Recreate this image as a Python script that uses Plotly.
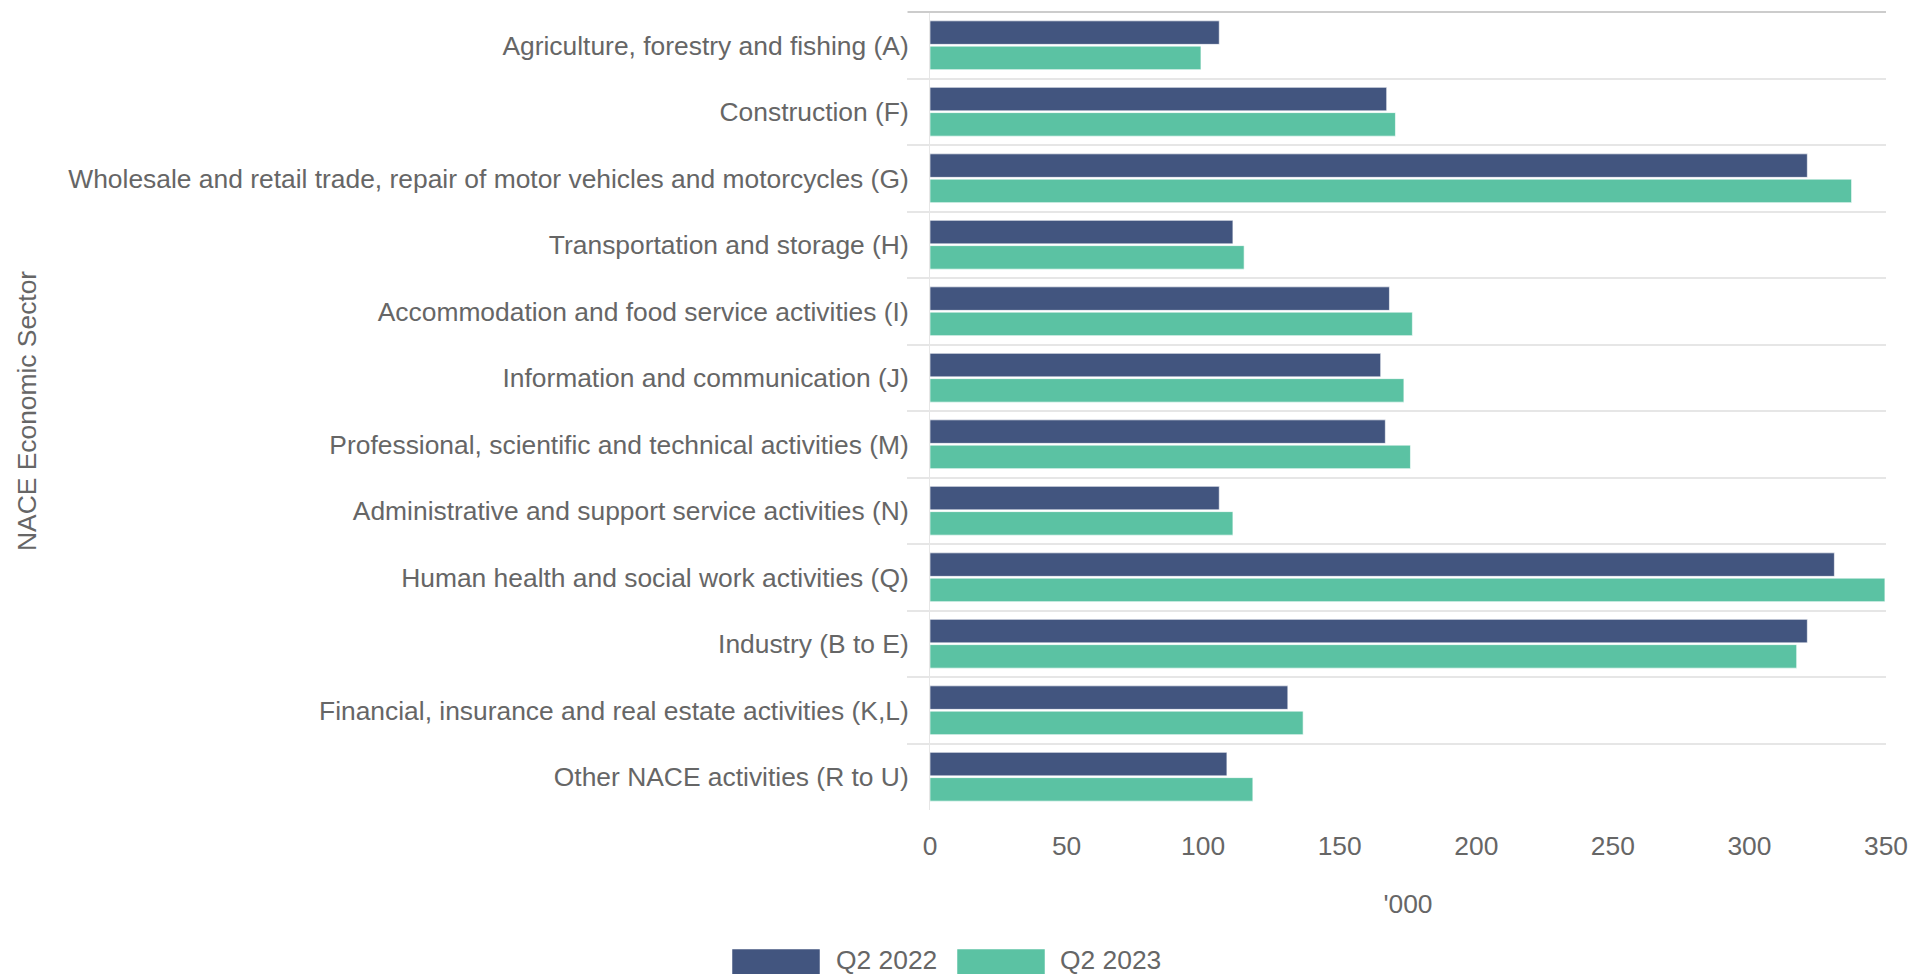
import plotly.graph_objects as go

# Persons in employment by NACE economic sector ('000)
sectors = [
    "Agriculture, forestry and fishing (A)",
    "Construction (F)",
    "Wholesale and retail trade, repair of motor vehicles and motorcycles (G)",
    "Transportation and storage (H)",
    "Accommodation and food service activities (I)",
    "Information and communication (J)",
    "Professional, scientific and technical activities (M)",
    "Administrative and support service activities (N)",
    "Human health and social work activities (Q)",
    "Industry (B to E)",
    "Financial, insurance and real estate activities (K,L)",
    "Other NACE activities (R to U)",
]
q2_2022 = [105.9, 167.2, 321.2, 110.9, 168.2, 165.0, 166.7, 105.9, 331.1, 321.2, 131.0, 108.7]
q2_2023 = [99.2, 170.4, 337.4, 115.0, 176.6, 173.5, 175.9, 110.9, 349.6, 317.3, 136.6, 118.2]
series_names = ["Q2 2022", "Q2 2023"]
x_ticks = [0, 50, 100, 150, 200, 250, 300, 350]

NAVY = "#42557f"
GREEN = "#5bc2a3"
TEXT = "#666666"
GRID = "#e6e6e6"
FONT = "Liberation Sans, Arial, sans-serif"
FS = 26.4

W, H = 1921, 974
L, R, T, B = 930, 35, 12, 164
pw = W - L - R
ph = H - T - B

fig = go.Figure()
for name, vals, col in [(series_names[0], q2_2022, NAVY), (series_names[1], q2_2023, GREEN)]:
    fig.add_trace(go.Bar(
        y=sectors, x=vals, name=name, orientation="h",
        marker=dict(color=col, line=dict(color="rgba(255,255,255,0.6)", width=1)),
        showlegend=False, hoverinfo="x+name",
    ))

def px_x(p):
    return (p - L) / pw

def px_y(p):
    return 1 - (p - T) / ph

shapes = [
    # darker rule along the top of the plot
    dict(type="line", xref="paper", yref="paper", x0=px_x(908), x1=1, y0=1, y1=1,
         line=dict(color="#cccccc", width=2)),
]
annotations = [
    dict(text="NACE Economic Sector", xref="paper", yref="paper",
         x=px_x(27), y=0.5, textangle=-90, showarrow=False,
         font=dict(family=FONT, size=FS, color=TEXT), xanchor="center", yanchor="middle"),
]

# legend drawn below the axis title
legend_items = [
    (series_names[0], NAVY, 732, 820, 834),
    (series_names[1], GREEN, 957, 1045, 1058),
]
for name, col, sx0, sx1, tx in legend_items:
    shapes.append(dict(type="rect", xref="paper", yref="paper",
                       x0=px_x(sx0), x1=px_x(sx1), y0=px_y(980), y1=px_y(949),
                       fillcolor=col, line=dict(color="rgba(255,255,255,0.5)", width=1)))
    annotations.append(dict(text=name, xref="paper", yref="paper",
                            x=px_x(tx), y=px_y(960), xanchor="left", yanchor="middle",
                            showarrow=False, font=dict(family=FONT, size=FS, color=TEXT)))

fig.update_layout(
    width=W, height=H,
    margin=dict(l=L, r=R, t=T, b=B, autoexpand=False),
    paper_bgcolor="white", plot_bgcolor="white",
    barmode="group", bargap=0.24, bargroupgap=0.07,
    font=dict(family=FONT, size=FS, color=TEXT),
    shapes=shapes, annotations=annotations,
    xaxis=dict(
        range=[0, 350], tickvals=x_ticks, ticktext=[str(v) for v in x_ticks],
        showgrid=False, zeroline=False, showline=False,
        ticks="outside", ticklen=12, tickcolor="rgba(0,0,0,0)",
        tickfont=dict(family=FONT, size=FS, color=TEXT),
        title=dict(text="'000", font=dict(family=FONT, size=FS, color=TEXT), standoff=34),
        fixedrange=True,
    ),
    yaxis=dict(
        categoryorder="array", categoryarray=sectors, autorange="reversed",
        tickson="boundaries", ticks="outside", ticklen=22, tickcolor=GRID, tickwidth=2,
        ticklabelstandoff=15,
        showgrid=True, gridcolor=GRID, gridwidth=2,
        showline=True, linecolor=GRID, linewidth=1,
        zeroline=False,
        tickfont=dict(family=FONT, size=FS, color=TEXT),
        automargin=False, fixedrange=True,
    ),
)

fig.write_html("out.html")
